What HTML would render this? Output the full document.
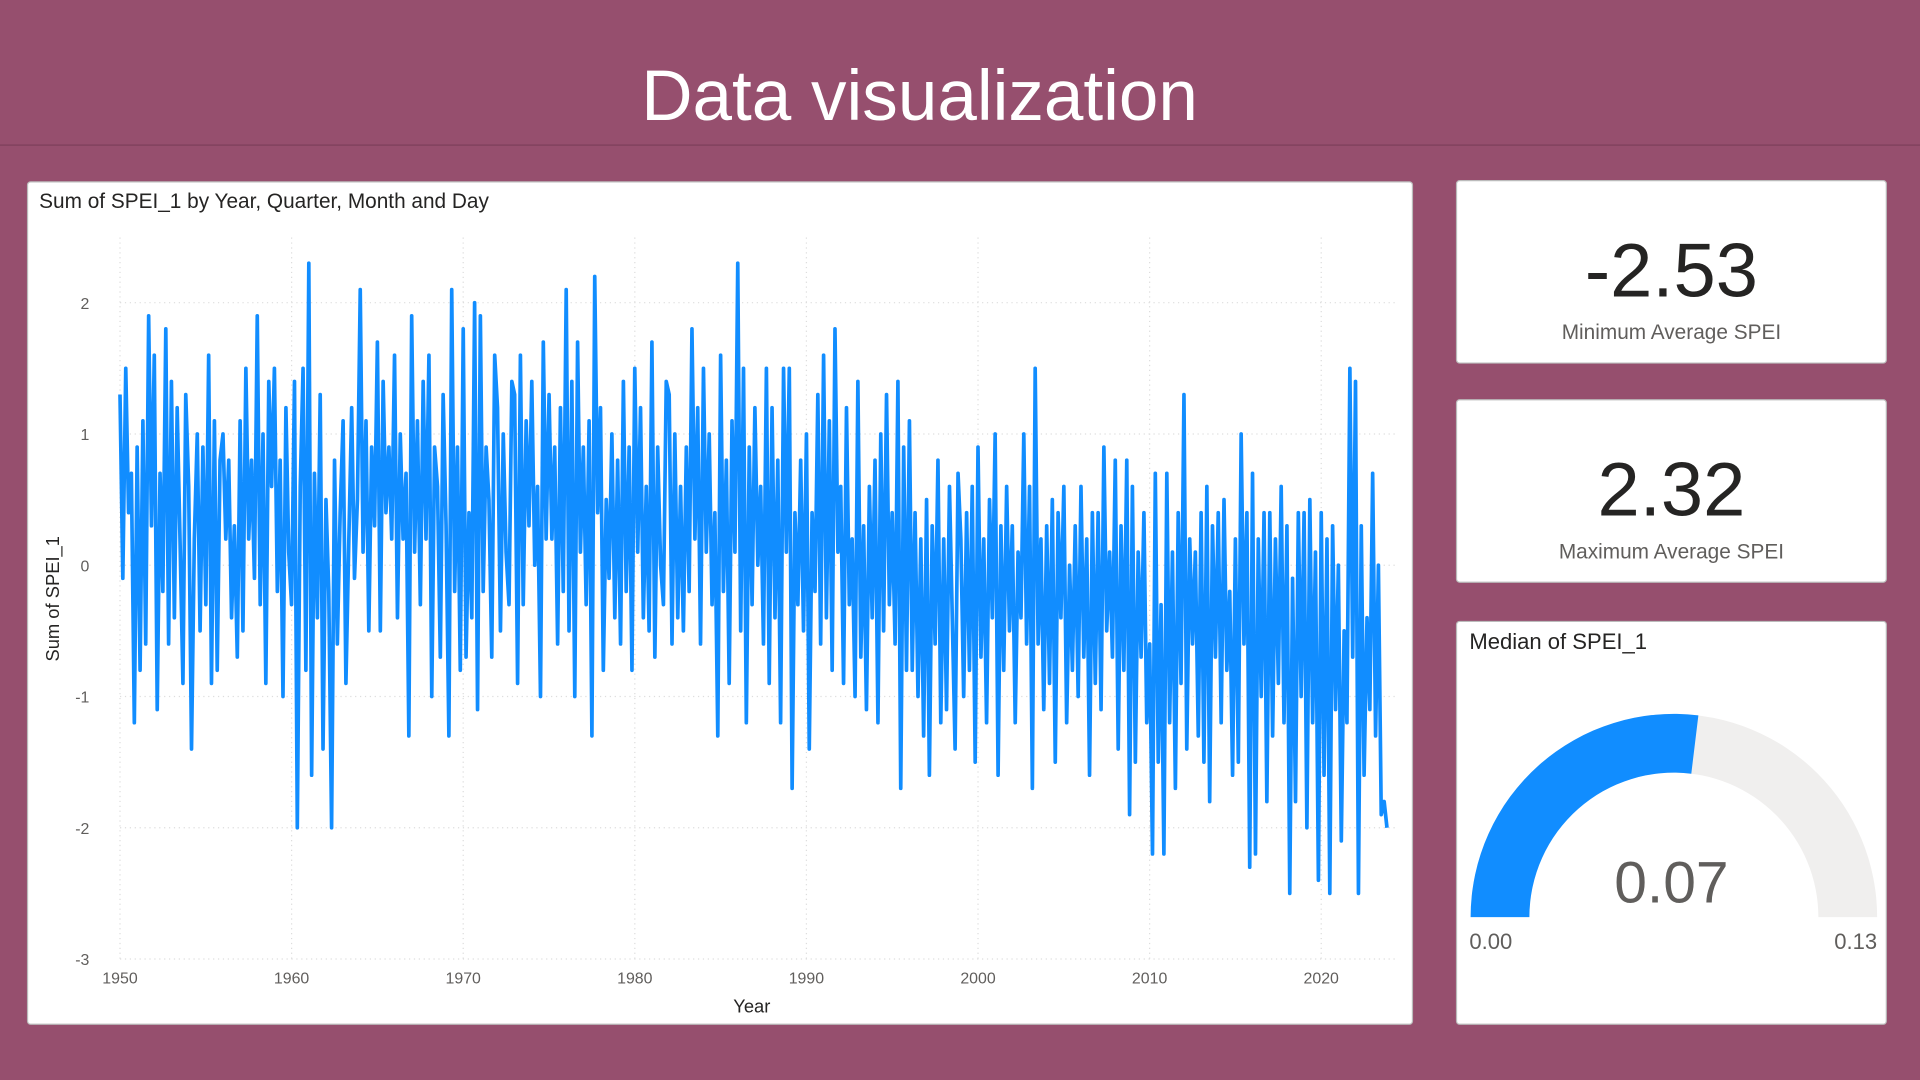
<!DOCTYPE html>
<html><head><meta charset="utf-8"><style>
html,body{margin:0;padding:0;width:1920px;height:1080px;overflow:hidden;background:#964F6E;}
#root{position:absolute;left:0;top:0;width:1568px;height:882px;transform:scale(1.22449);transform-origin:0 0;font-family:"Liberation Sans",sans-serif;}
.card{position:absolute;background:#fff;border:1px solid #bbb;border-radius:3px;}
.big{position:absolute;left:0;right:0;text-align:center;color:#252423;}
.lab{position:absolute;left:0;right:0;text-align:center;color:#605E5C;font-size:17px;}
</style></head><body>
<div id="root">
<div style="position:absolute;left:0;top:0;width:1568px;height:118px;border-bottom:1px solid #7d3f5a;"></div>
<div style="position:absolute;left:0;top:45px;width:1502px;text-align:center;color:#fff;font-size:58px;">Data visualization</div>

<div class="card" style="left:22px;top:148px;width:1130px;height:687px;">
<svg id="chart" width="1130" height="687" style="position:absolute;left:0;top:0"></svg>
</div>

<div class="card" style="left:1189px;top:147px;width:350px;height:148px;">
<div class="big" style="top:38px;font-size:62px;">-2.53</div>
<div class="lab" style="top:114px;">Minimum Average SPEI</div>
</div>
<div class="card" style="left:1189px;top:326px;width:350px;height:148px;">
<div class="big" style="top:38px;font-size:62px;">2.32</div>
<div class="lab" style="top:114px;">Maximum Average SPEI</div>
</div>
<div class="card" style="left:1189px;top:507px;width:350px;height:328px;">
<div style="position:absolute;left:10px;top:6px;font-size:18px;color:#252423;">Median of SPEI_1</div>
<svg id="gauge" width="350" height="328" style="position:absolute;left:0;top:0"></svg>
<div style="position:absolute;left:0;right:0;top:186px;text-align:center;font-size:48px;color:#605E5C;">0.07</div>
<div style="position:absolute;left:10px;top:251px;font-size:18px;color:#605E5C;">0.00</div>
<div style="position:absolute;right:7px;top:251px;font-size:18px;color:#605E5C;">0.13</div>
</div>
</div>
<script>
const yTicks=[-3,-2,-1,0,1,2];
const xTicks=[1950,1960,1970,1980,1990,2000,2010,2020];
const startYear=1950, perYear=6;
const spei=[
1.3,-0.1,1.5,0.4,0.7,-1.2, 0.9,-0.8,1.1,-0.6,1.9,0.3, 1.6,-1.1,0.7,-0.2,1.8,-0.6, 1.4,-0.4,1.2,0.2,-0.9,1.3,
0.6,-1.4,0.2,1.0,-0.5,0.9, -0.3,1.6,-0.9,1.1,-0.8,0.8, 1.0,0.2,0.8,-0.4,0.3,-0.7, 1.1,-0.5,1.5,0.2,0.8,-0.1,
1.9,-0.3,1.0,-0.9,1.4,0.6, 1.5,-0.2,0.8,-1.0,1.2,0.1, -0.3,1.4,-2.0,0.6,1.5,-0.8, 2.3,-1.6,0.7,-0.4,1.3,-1.4,
0.5,-0.2,-2.0,0.8,-0.6,0.4, 1.1,-0.9,0.2,1.2,-0.1,0.5, 2.1,0.1,1.1,-0.5,0.9,0.3, 1.7,-0.5,1.4,0.4,0.9,0.2,
1.6,-0.4,1.0,0.2,0.7,-1.3, 1.9,0.1,1.1,-0.3,1.4,0.2, 1.6,-1.0,0.9,0.6,-0.7,1.3, 0.3,-1.3,2.1,-0.2,0.9,-0.8,
1.8,-0.7,0.4,-0.4,2.0,-1.1, 1.9,-0.2,0.9,0.5,-0.7,1.6, 1.2,-0.5,1.0,0.1,-0.3,1.4, 1.3,-0.9,1.6,-0.3,1.1,0.3,
1.4,0.0,0.6,-1.0,1.7,0.2, 1.3,0.2,0.9,-0.6,1.2,-0.2, 2.1,-0.5,1.4,-1.0,1.7,0.1, 0.9,-0.3,1.1,-1.3,2.2,0.4,
1.2,-0.8,0.5,-0.1,1.0,-0.4, 0.8,-0.6,1.4,-0.2,0.9,-0.8, 1.5,0.1,1.2,-0.4,0.6,-0.5, 1.7,-0.7,0.9,0.0,-0.3,1.4,
1.3,-0.6,1.0,-0.4,0.6,-0.5, 0.9,-0.2,1.8,0.2,1.2,-0.6, 1.5,0.1,1.0,-0.3,0.4,-1.3, 1.6,-0.2,0.8,-0.9,1.1,0.1,
2.3,-0.5,1.5,-1.2,0.9,-0.3, 1.2,0.0,0.6,-0.6,1.5,-0.9, 1.2,-0.4,0.8,-1.2,1.5,0.1, 1.5,-1.7,0.4,-0.3,0.8,-0.5,
1.0,-1.4,0.4,-0.2,1.3,-0.6, 1.6,-0.4,1.1,-0.8,1.8,0.1, 0.6,-0.9,1.2,-0.3,0.2,-1.0, 1.4,-0.7,0.3,-1.1,0.6,-0.4,
0.8,-1.2,1.0,-0.5,1.3,-0.3, 0.4,-0.6,1.4,-1.7,0.9,-0.8, 1.1,-0.8,0.4,-1.0,0.2,-1.3, 0.5,-1.6,0.3,-0.6,0.8,-1.2,
0.2,-1.1,0.6,-0.4,-1.4,0.7, 0.2,-1.0,0.4,-0.8,0.6,-1.5, 0.9,-0.7,0.2,-1.2,0.5,-0.4, 1.0,-1.6,0.3,-0.8,0.6,-0.5,
0.3,-1.2,0.1,-0.4,1.0,-0.6, 0.6,-1.7,1.5,-0.6,0.2,-1.1, 0.3,-0.9,0.5,-1.5,0.4,-0.4, 0.6,-1.2,0.0,-0.8,0.3,-1.0,
0.6,-0.7,0.2,-1.6,0.4,-0.9, 0.4,-1.1,0.9,-0.5,0.1,-0.7, 0.8,-1.4,0.3,-0.8,0.8,-1.9, 0.6,-1.5,0.1,-0.7,0.4,-1.2,
-0.6,-2.2,0.7,-1.5,-0.3,-2.2, 0.7,-1.2,0.1,-1.7,0.4,-0.9, 1.3,-1.4,0.2,-0.6,0.1,-1.3, 0.4,-1.5,0.6,-1.8,0.3,-0.7,
0.4,-1.2,0.5,-0.8,-0.2,-1.6, 0.2,-1.5,1.0,-0.6,0.4,-2.3, 0.7,-2.2,0.2,-1.0,0.4,-1.8, 0.4,-1.3,0.2,-0.9,0.6,-1.2,
0.3,-2.5,-0.1,-1.8,0.4,-1.0, 0.4,-2.0,0.5,-1.2,0.1,-2.4, 0.4,-1.6,0.2,-2.5,0.3,-1.1, 0.0,-2.1,-0.5,-1.2,1.5,-0.7,
1.4,-2.5,0.3,-1.6,-0.4,-1.1, 0.7,-1.3,0.0,-1.9,-1.8,-2.0
];
const gaugeMin=[0], gaugeMax=[0.13], gaugeValue=[0.07];

const NS="http://www.w3.org/2000/svg";
function mk(p,tag,attrs){const e=document.createElementNS(NS,tag);for(const k in attrs)e.setAttribute(k,attrs[k]);p.appendChild(e);return e;}
const svg=document.getElementById('chart');
const x=yr=>75+(yr-1950)*(981/70);
const y=v=>312.6-v*107.2;
yTicks.forEach(t=>{
  const g=mk(svg,'line',{x1:75,x2:1118,y1:y(t),y2:y(t),stroke:'#ddd','stroke-dasharray':'1 3'});
  
  
  const l=mk(svg,'text',{x:50,y:y(t)+5,'text-anchor':'end','font-size':13,fill:'#605E5C','font-family':'Liberation Sans'});
  l.textContent=t;
  
  
});
xTicks.forEach(t=>{
  const g=mk(svg,'line',{x1:x(t),x2:x(t),y1:45,y2:635,stroke:'#ddd','stroke-dasharray':'1 3'});
  
  
  const l=mk(svg,'text',{x:x(t),y:654,'text-anchor':'middle','font-size':13,fill:'#605E5C','font-family':'Liberation Sans'});
  l.textContent=t;
  
  
});
let d='';
spei.forEach((v,i)=>{d+=(i?'L':'M')+x(startYear+i/perYear).toFixed(1)+','+y(v).toFixed(1);});
const line=mk(svg,'path',{d:d,fill:'none',stroke:'#118DFF','stroke-width':3,'stroke-linejoin':'round'});


const tt=mk(svg,'text',{x:9,y:21,'font-size':17,fill:'#252423','font-family':'Liberation Sans'});
tt.textContent='Sum of SPEI_1 by Year, Quarter, Month and Day';


const xt=mk(svg,'text',{x:591,y:678,'text-anchor':'middle','font-size':15,fill:'#252423','font-family':'Liberation Sans'});
xt.textContent='Year';


const yt=mk(svg,'text',{x:0,y:0,'text-anchor':'middle','font-size':15,fill:'#252423','font-family':'Liberation Sans',transform:'translate(25,340) rotate(-90)'});
yt.textContent='Sum of SPEI_1';



const gs=document.getElementById('gauge');
const cx=177,cy=241,R=166,r=118;
function arc(a0,a1){const p=(a,rad)=>[cx-rad*Math.cos(a),cy-rad*Math.sin(a)];
 const[a,b]=p(a0,R),[c,e]=p(a1,R),[f,g]=p(a1,r),[h,k]=p(a0,r);
 const lg=(a1-a0)>Math.PI?1:0;
 return `M${a},${b}A${R},${R} 0 ${lg} 1 ${c},${e}L${f},${g}A${r},${r} 0 ${lg} 0 ${h},${k}Z`;}
const frac=(gaugeValue[0]-gaugeMin[0])/(gaugeMax[0]-gaugeMin[0]);
const bg=mk(gs,'path',{d:arc(0,Math.PI),fill:'#F0EFEE'});


const fg=mk(gs,'path',{d:arc(0,Math.PI*frac),fill:'#118DFF'});


</script>
</body></html>
